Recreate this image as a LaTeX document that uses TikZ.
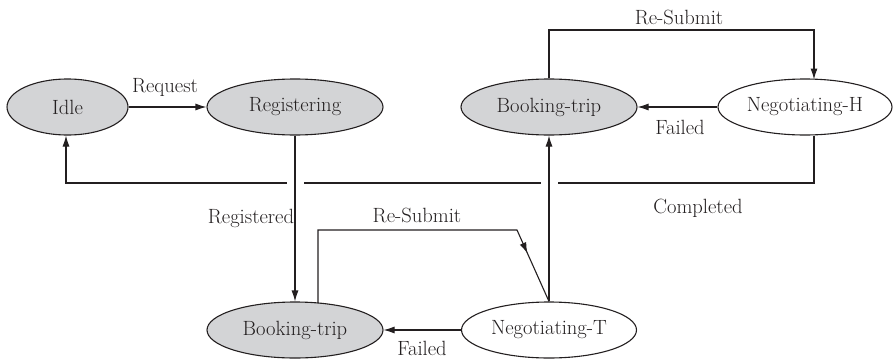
\documentclass[tikz,border=0pt]{standalone}
\usetikzlibrary{shapes.geometric,arrows.meta,decorations.markings}
\definecolor{statefill}{RGB}{211,212,214}
\definecolor{ink}{RGB}{35,31,32}
\begin{document}
\begin{tikzpicture}[x=1pt,y=-1pt,
  every node/.style={font=\fontsize{20.6}{24}\selectfont, text=ink},
  state/.style={ellipse, draw=ink, line width=1.1pt, inner sep=0pt, minimum height=56pt},
  active/.style={state, fill=statefill},
  idlestate/.style={state, fill=white},
  link/.style={draw=ink, line width=1.1pt},
  tip/.style={-{Latex[length=11pt,width=7pt]}},
  lbl/.style={anchor=base, inner sep=0pt},
  gap/.style={fill=white},
  midtip/.style={decoration={markings, mark=at position #1 with {\arrow{Latex[length=11pt,width=7pt]}}}, postaction={decorate}}
]
\useasboundingbox (0,0) rectangle (893,359);

% states
\node[active, minimum width=121pt] (idle) at (67.5,107) {Idle};
\node[active, minimum width=176pt] (reg)  at (295,107) {Registering};
\node[active, minimum width=176pt] (bt)   at (549,107) {Booking-trip};
\node[idlestate, minimum width=174pt] (nh) at (805,107) {Negotiating-H};
\node[active, minimum width=176pt] (bb)   at (295,330) {Booking-trip};
\node[idlestate, minimum width=175pt] (nt) at (549,330) {Negotiating-T};

% corner points of the routed connectors
\coordinate (cR) at (814,183);
\coordinate (cL) at (66,183);
\coordinate (rs1) at (318,230);
\coordinate (rs2) at (517,230);
\coordinate (top1) at (549,30);
\coordinate (top2) at (814,30);

% Completed: back to Idle
\draw[link, tip] (814,135.5) -- (cR) -- (cL) -- (idle.south -| cL);
% breaks where the vertical connectors pass
\fill[gap] (287,179) rectangle (304,187);
\fill[gap] (540.5,179) rectangle (558,187);

% Request
\draw[link, tip] (idle.east) -- (reg.west);
% Registered
\draw[link, tip] (reg.south) -- (bb.north);
% Failed (lower)
\draw[link, tip] (nt.west) -- (bb.east);
% Failed (upper)
\draw[link, tip] (nh.west) -- (bt.east);
% Negotiating-T up to Booking-trip
\draw[link, tip] (nt.north) -- (bt.south);
% Re-Submit (upper)
\draw[link, tip] (bt.north) -- (top1) -- (top2) -- (814,79.5);
% Re-Submit (lower), tip partway down the slanted leg
\draw[link, midtip=0.85] (318,303) -- (rs1) -- (rs2) -- (nt.north);

% labels
\node[lbl] (lreq) at (165,92) {Request};
\node[lbl] (lreg) at (251,223) {Registered};
\node[lbl] (lrs1) at (679,24) {Re-Submit};
\node[lbl] (lfh)  at (680,134) {Failed};
\node[lbl] (lcom) at (698,213) {Completed};
\node[lbl] (lrs2) at (417,222) {Re-Submit};
\node[lbl] (lft)  at (422,355) {Failed};
\end{tikzpicture}
\end{document}
